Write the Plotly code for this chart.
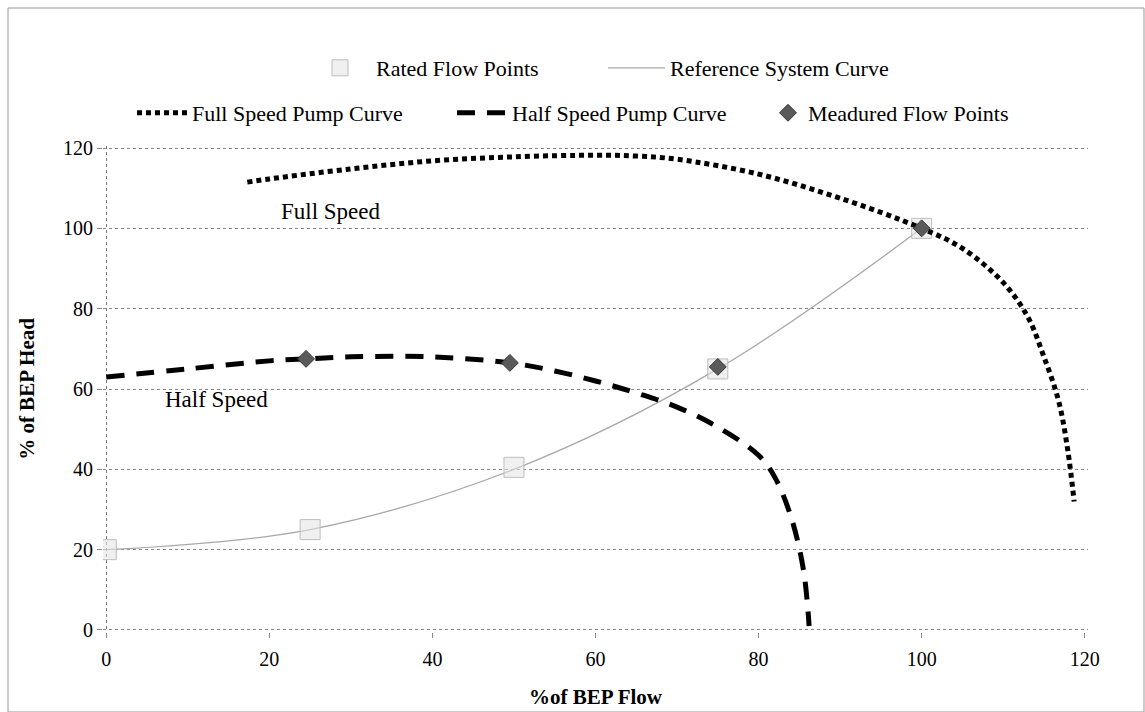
import plotly.graph_objects as go

# ---- data ----
rated_x = [0, 25, 50, 75, 100]
rated_y = [20, 25, 40.5, 65, 100]

measured_x = [24.5, 49.5, 75, 100]
measured_y = [67.5, 66.5, 65.5, 100]

system_x = [0, 25, 50, 75, 100]
system_y = [20, 25, 40, 65, 100]

full_x = [17.3, 20, 30, 40, 50, 60, 65, 70, 80, 90, 100, 105, 110, 113, 115, 116.8, 117.9, 118.7]
full_y = [111.5, 112.3, 114.8, 116.8, 117.8, 118.2, 118.0, 117.2, 113.5, 107.5, 100, 95, 86.5, 78, 68, 57, 45, 32]

half_x = [0, 10, 20, 24.5, 30, 40, 49.5, 55, 60, 65, 70, 75, 80, 82, 84, 85.5, 86.2]
half_y = [63, 65, 67, 67.5, 68, 68, 66.5, 64.5, 62, 59, 55.5, 50.5, 43.5, 38, 28, 15, 1]

x_ticks = [0, 20, 40, 60, 80, 100, 120]
y_ticks = [0, 20, 40, 60, 80, 100, 120]

FONT = "Liberation Serif"
W, H = 1145, 712
L, R, T, B = 103, 57, 146, 80
pw = W - L - R
ph = H - T - B


def px_x(p):
    return (p - L) / pw


def px_y(p):
    return 1 + (T - p) / ph


fig = go.Figure()

fig.add_trace(go.Scatter(
    x=system_x, y=system_y, mode="lines", line_shape="spline",
    line=dict(color="#a8a8a8", width=1.3),
    name="Reference System Curve", legend="legend2"))

fig.add_trace(go.Scatter(
    x=rated_x, y=rated_y, mode="markers",
    marker=dict(symbol="square", size=20, color="rgba(228,228,228,0.55)",
                line=dict(color="#bdbdbd", width=1)),
    name="Rated Flow Points", legend="legend"))

fig.add_trace(go.Scatter(
    x=full_x, y=full_y, mode="lines", line_shape="spline",
    line=dict(color="black", width=5, dash="5px,4px"),
    name="Full Speed Pump Curve", legend="legend3"))

fig.add_trace(go.Scatter(
    x=half_x, y=half_y, mode="lines", line_shape="spline",
    line=dict(color="black", width=5, dash="18px,12px"),
    name="Half Speed Pump Curve", legend="legend4"))

fig.add_trace(go.Scatter(
    x=measured_x, y=measured_y, mode="markers",
    marker=dict(symbol="diamond", size=13, color="#5a5a5a",
                line=dict(color="#333333", width=1)),
    name="Meadured Flow Points", legend="legend5"))

# invisible trace on an overlay axis that carries the dotted vertical line at x=0
fig.add_trace(go.Scatter(x=[0], y=[0], xaxis="x2", mode="markers",
                         marker=dict(opacity=0), showlegend=False, hoverinfo="skip"))

leg_font = dict(size=22, family=FONT)


def leg(px_left, py_mid, itemwidth=30):
    return dict(orientation="h", x=px_x(px_left), xanchor="left", y=px_y(py_mid),
                yanchor="middle", font=leg_font, itemwidth=itemwidth,
                bgcolor="rgba(0,0,0,0)")


fig.update_layout(
    width=W, height=H,
    margin=dict(l=L, r=R, t=T, b=B),
    paper_bgcolor="white", plot_bgcolor="white",
    font=dict(family=FONT, size=20, color="black"),
    xaxis=dict(range=[-0.4, 120.4], tickvals=x_ticks, showgrid=False, zeroline=False,
               showline=False, ticks="outside", ticklen=5, tickcolor="#888",
               ticklabelstandoff=4, automargin=False,
               tickfont=dict(size=20, family=FONT),
               title=dict(text="<b>%of BEP Flow</b>", font=dict(size=21, family=FONT), standoff=20)),
    xaxis2=dict(range=[-0.4, 120.4], overlaying="x", tickvals=[0], showticklabels=False,
                showgrid=True, gridcolor="#777", griddash="dot", gridwidth=1,
                zeroline=False, ticks="", automargin=False),
    yaxis=dict(range=[-0.5, 120.5], tickvals=y_ticks, showgrid=True, gridcolor="#888",
               griddash="dot", gridwidth=1, zeroline=False, showline=False,
               ticks="outside", ticklen=5, tickcolor="#888", automargin=False,
               tickfont=dict(size=20, family=FONT),
               title=dict(text="<b>% of BEP Head</b>", font=dict(size=21, family=FONT), standoff=22)),
    legend=leg(304, 68, itemwidth=62),
    legend2=leg(603, 68, itemwidth=57),
    legend3=leg(132, 113, itemwidth=50),
    legend4=leg(452, 113, itemwidth=50),
    legend5=leg(768, 113),
    annotations=[
        dict(x=27.5, y=104.3, xref="x", yref="y", text="Full Speed", showarrow=False,
             font=dict(size=23, family=FONT)),
        dict(x=13.5, y=57.3, xref="x", yref="y", text="Half Speed", showarrow=False,
             font=dict(size=23, family=FONT)),
    ],
    shapes=[
        dict(type="rect", xref="paper", yref="paper",
             x0=px_x(8), x1=px_x(W - 1),
             y0=-B / ph, y1=px_y(8),
             line=dict(color="#999", width=1)),
    ],
)

# remove the browser's default 8px page margin so the figure sits at the window origin
fig.write_html("out.html", config={"displayModeBar": False},
               post_script="document.body.style.margin='0';document.body.style.overflow='hidden';")
